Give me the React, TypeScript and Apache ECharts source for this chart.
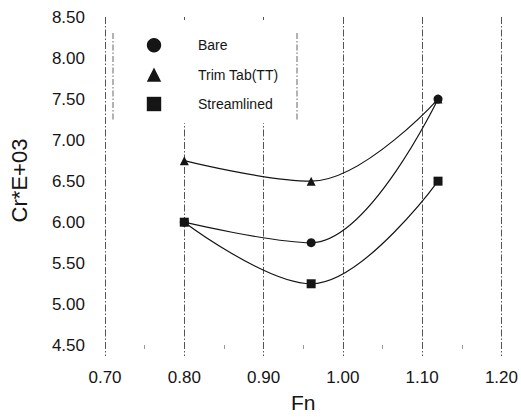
import React, { useEffect, useRef } from "react";
import * as echarts from "echarts";

const fn = [0.8, 0.96, 1.12];
const bare = [6.0, 5.75, 7.5];
const trimTab = [6.75, 6.5, 7.5];
const streamlined = [6.0, 5.25, 6.5];
const yTicks = [4.5, 5.0, 5.5, 6.0, 6.5, 7.0, 7.5, 8.0, 8.5];
const seriesNames = ["Bare", "Trim Tab(TT)", "Streamlined"];

const FONT = "'Liberation Sans', Arial, sans-serif";
const INK = "#151515";

export default function App() {
  const ref = useRef<HTMLDivElement>(null);
  useEffect(() => {
    if (!ref.current) return;
    const chart = echarts.init(ref.current, null, { renderer: "svg" });
    const pts = (ys: number[]) => fn.map((x, i) => [x, ys[i]]);
    const lineSeries = (name: string, ys: number[], symbol: string, size: number) => ({
      name,
      type: "line",
      data: pts(ys),
      smooth: 0.38,
      symbol,
      symbolSize: size,
      showSymbol: true,
      lineStyle: { color: INK, width: 1.2 },
      itemStyle: { color: INK },
    });
    chart.setOption({
      animation: false,
      backgroundColor: "#fff",
      textStyle: { fontFamily: FONT },
      grid: { left: 105, right: 19, top: 17, bottom: 55 },
      xAxis: {
        type: "value",
        min: 0.7,
        max: 1.2,
        interval: 0.1,
        offset: -11,
        name: "Fn",
        nameLocation: "middle",
        nameGap: 47,
        nameTextStyle: { fontSize: 21, color: INK, fontFamily: FONT },
        axisLine: { show: false },
        axisTick: { show: false },
        minorTick: { show: true, splitNumber: 2, length: 4, lineStyle: { color: "#999", width: 1 } },
        axisLabel: {
          margin: 24,
          fontSize: 17,
          color: INK,
          fontFamily: FONT,
          formatter: (v: number) => v.toFixed(2),
        },
        splitLine: {
          show: true,
          lineStyle: { color: "#555", width: 1, type: [7, 2, 1.5, 2] },
        },
      },
      yAxis: {
        type: "value",
        min: 4.37,
        max: 8.5,
        name: "Cr*E+03",
        nameLocation: "middle",
        nameGap: 75,
        nameTextStyle: { fontSize: 22, color: INK, fontFamily: FONT, padding: [0, 0, 0, 12] },
        axisLine: { show: false },
        axisTick: { show: false },
        splitLine: { show: false },
        axisLabel: {
          customValues: yTicks,
          margin: 20,
          fontSize: 17,
          color: INK,
          fontFamily: FONT,
          formatter: (v: number) => v.toFixed(2),
        },
      },
      legend: {
        data: seriesNames,
        orient: "vertical",
        left: 113,
        top: 20,
        padding: [18, 18, 12, 1],
        itemWidth: 78,
        itemHeight: 18,
        itemGap: 15,
        backgroundColor: "#fff",
        lineStyle: { opacity: 0 },
        textStyle: { fontSize: 14, color: INK, fontFamily: FONT },
      },
      graphic: [
        {
          type: "line",
          z: 10,
          shape: { x1: 113, y1: 33, x2: 113, y2: 120 },
          style: { stroke: "#666", lineWidth: 1, lineDash: [6, 2, 1.5, 2] },
        },
        {
          type: "line",
          z: 10,
          shape: { x1: 297, y1: 33, x2: 297, y2: 120 },
          style: { stroke: "#666", lineWidth: 1, lineDash: [6, 2, 1.5, 2] },
        },
      ],
      series: [
        lineSeries("Trim Tab(TT)", trimTab, "triangle", 9),
        lineSeries("Bare", bare, "circle", 9),
        lineSeries("Streamlined", streamlined, "rect", 9),
      ],
    });
    return () => chart.dispose();
  }, []);
  return <div ref={ref} style={{ width: 521, height: 418, position: "absolute", left: 0, top: 0 }} />;
}
